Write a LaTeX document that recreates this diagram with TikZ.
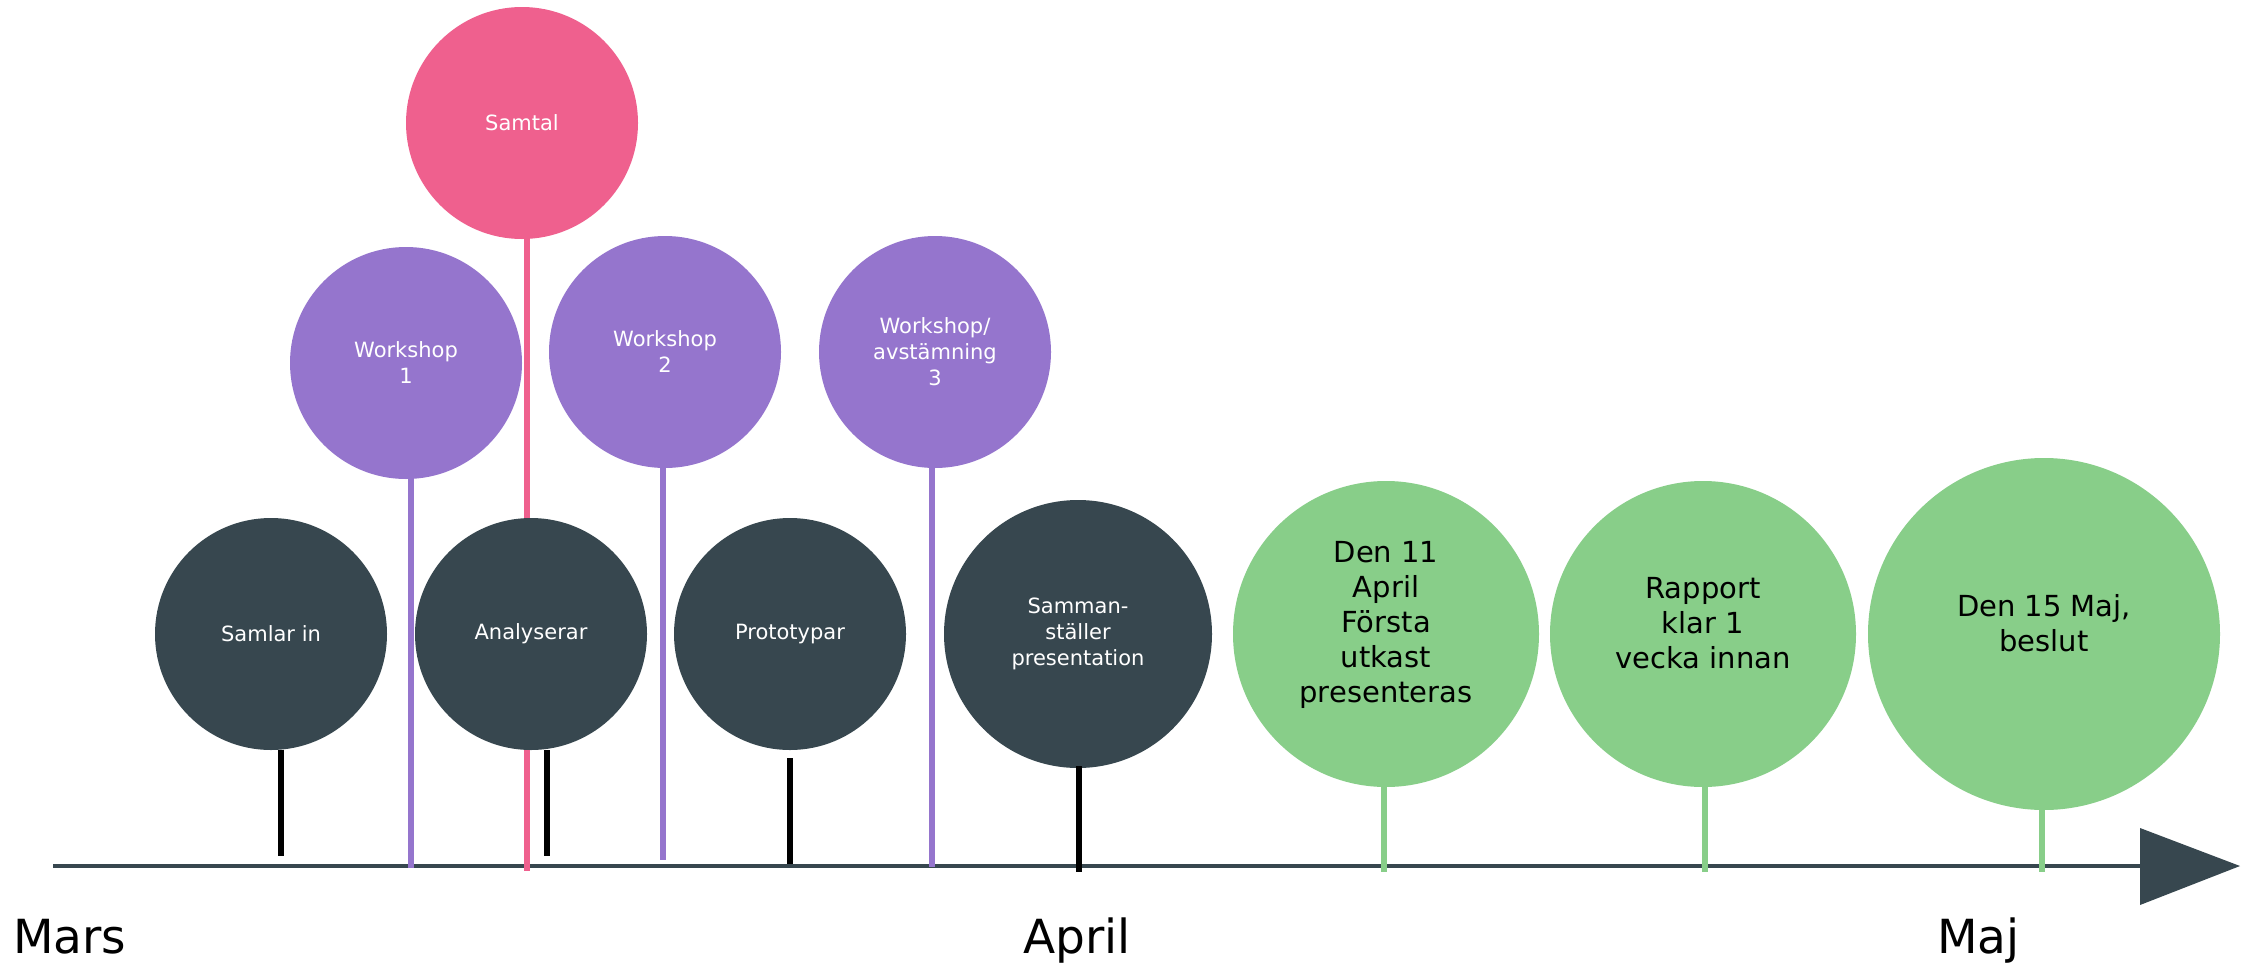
\documentclass[tikz,border=0pt]{standalone}
\usepackage{fontspec}
\setmainfont{DejaVu Sans}
\definecolor{slate}{HTML}{37474F}
\definecolor{lila}{HTML}{9575CD}
\definecolor{rosa}{HTML}{EF608E}
\definecolor{gron}{HTML}{88CE89}
\tikzset{
  ball/.style={circle, inner sep=0pt, minimum size=#1, draw=none},
  darkball/.style={ball=232pt, fill=slate, text=white, align=center, font=\fontsize{21}{26}\selectfont},
  purpball/.style={ball=232pt, fill=lila, text=white, align=center, font=\fontsize{21}{26}\selectfont},
  pinkball/.style={ball=232pt, fill=rosa, text=white, align=center, font=\fontsize{21}{26}\selectfont},
  greenball/.style={ball=#1, fill=gron},
  gtext/.style={align=center, text=black, inner sep=0pt, font=\fontsize{29}{35}\selectfont},
  stemline/.style={line width=6pt, line cap=butt},
  month/.style={anchor=base west, inner sep=0pt, font=\fontsize{47}{56}\selectfont},
}
\begin{document}
\begin{tikzpicture}[x=1pt, y=-1pt]
\useasboundingbox[fill=white] (0,0) rectangle (2255,964);

% axis
\coordinate (axL) at (53,866);
\coordinate (axR) at (2140,866);
\draw[slate, line width=4pt] (axL) -- (axR);
\fill[slate] (2140,828) -- (2240,866) -- (2140,905) -- cycle;

% bottom coordinates of stems
\coordinate (b1) at (281,856);
\coordinate (b2) at (411,868);
\coordinate (b3) at (527,871);
\coordinate (b4) at (547,856);
\coordinate (b5) at (663,860);
\coordinate (b6) at (790,864);
\coordinate (b7) at (932,867);
\coordinate (b8) at (1079,872);
\coordinate (b9) at (1384,872);
\coordinate (b10) at (1705,872);
\coordinate (b11) at (2042,872);
% top of short black stems
\coordinate (t6) at (790,758);
\coordinate (t8) at (1079,766);

% circle centres
\path
  (522,123) coordinate (cSamtal)
  (406,363) coordinate (cW1)
  (665,352) coordinate (cW2)
  (935,352) coordinate (cW3);

% long stems (behind circles)
\draw[stemline, rosa] (cSamtal -| b3) -- (b3);
\draw[stemline, lila] (cW1 -| b2) -- (b2);
\draw[stemline, lila] (cW2 -| b5) -- (b5);
\draw[stemline, lila] (cW3 -| b7) -- (b7);

% dark circles
\node[darkball] (samlar) at (271,634) {Samlar in};
\node[darkball] (analys) at (531,634) {Analyserar};
\node[darkball] (proto) at (790,634) {Prototypar};
\node[darkball, minimum size=268pt] (samman) at (1078,634) {Samman-\\ställer\\presentation};

% purple and pink circles
\node[pinkball] (samtal) at (cSamtal) {Samtal};
\node[purpball] (ws1) at (cW1) {Workshop\\1};
\node[purpball] (ws2) at (cW2) {Workshop\\2};
\node[purpball] (ws3) at (cW3) {Workshop/\\avstämning\\3};

% green circles
\node[greenball=306pt] (d11) at (1386,634) {};
\node[greenball=306pt] (rapp) at (1703,634) {};
\node[greenball=352pt] (d15) at (2044,634) {};
\node[gtext] (d11t) at ([yshift=9pt]d11.center) {Den 11\\April\\Första\\utkast\\presenteras};
\node[gtext] (rappt) at ([yshift=11pt]rapp.center) {Rapport\\klar 1\\vecka innan};
\node[gtext] (d15t) at ([yshift=11pt]d15.center) {Den 15 Maj,\\beslut};

% short stems
\draw[stemline, black] (samlar.south -| b1) -- (b1);
\draw[stemline, black] (analys.south -| b4) -- (b4);
\draw[stemline, black] (t6) -- (b6);
\draw[stemline, black] (t8) -- (b8);
\draw[stemline, gron] (d11.south -| b9) -- (b9);
\draw[stemline, gron] (rapp.south -| b10) -- (b10);
\draw[stemline, gron] (d15.south -| b11) -- (b11);

% months
\node[month] (mars) at (13,953) {Mars};
\node[month] (april) at (1023,953) {April};
\node[month] (maj) at (1937,953) {Maj};
\end{tikzpicture}
\end{document}
